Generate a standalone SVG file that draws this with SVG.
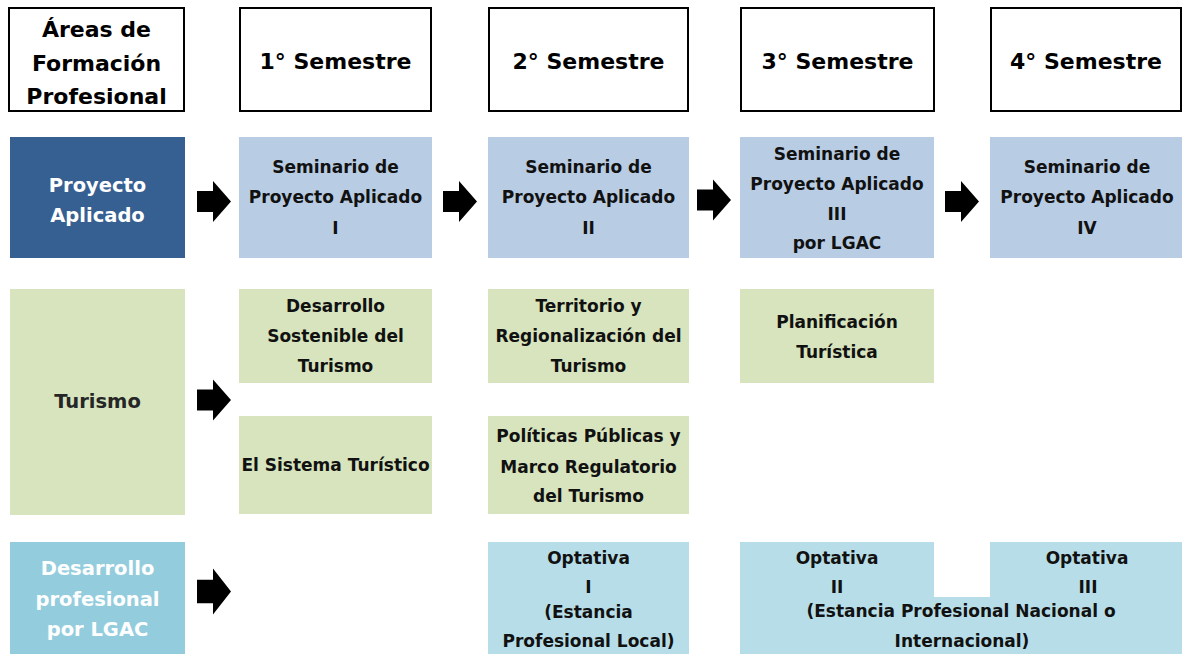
<svg xmlns="http://www.w3.org/2000/svg" width="1182" height="654" viewBox="0 0 1182 654">
<defs>
<style>
text{font-family:"DejaVu Sans","Liberation Sans",sans-serif;font-weight:bold;text-anchor:middle;}
.hdr{fill:#fff;stroke:#000;stroke-width:2;}
.ht{font-size:22px;fill:#000;}
.t{font-size:17px;fill:#111;}
.rl{font-size:19.5px;fill:#fff;}
.pa{fill:#b8cce4;}
.tu{fill:#d7e4bd;}
.op{fill:#b7dee8;}
.arr{fill:#000;}
</style>
<path id="arrow" d="M0,-10.5 H16 V-20.5 L34,0 L16,20.5 V10.5 H0 Z"/>
</defs>
<rect width="1182" height="654" fill="#fff"/>

<g id="header-areas"><rect class="hdr" x="9" y="8" width="175" height="103"/>
<text class="ht" x="96.5" y="37">Áreas de</text><text class="ht" x="96.5" y="71">Formación</text><text class="ht" x="96.5" y="104">Profesional</text></g>
<g id="header-s1"><rect class="hdr" x="240" y="8" width="191" height="103"/><text class="ht" x="335.5" y="69">1° Semestre</text></g>
<g id="header-s2"><rect class="hdr" x="489" y="8" width="199" height="103"/><text class="ht" x="588.5" y="69">2° Semestre</text></g>
<g id="header-s3"><rect class="hdr" x="741" y="8" width="193" height="103"/><text class="ht" x="837.5" y="69">3° Semestre</text></g>
<g id="header-s4"><rect class="hdr" x="991" y="8" width="190" height="103"/><text class="ht" x="1086" y="69">4° Semestre</text></g>

<g id="area-proyecto"><rect x="10" y="137" width="175" height="121" fill="#366092"/>
<text class="rl" x="97.5" y="192">Proyecto</text><text class="rl" x="97.5" y="222">Aplicado</text></g>
<g id="area-turismo"><rect x="10" y="289" width="175" height="226" fill="#d7e4bd"/>
<text class="rl" x="97.5" y="408" style="fill:#262626">Turismo</text></g>
<g id="area-desarrollo"><rect x="10" y="542" width="175" height="112" fill="#93cddd"/>
<text class="rl" x="97.5" y="575">Desarrollo</text><text class="rl" x="97.5" y="606">profesional</text><text class="rl" x="97.5" y="636">por LGAC</text></g>

<g id="spa1"><rect class="pa" x="239" y="137" width="193" height="121"/>
<text class="t" x="335.5" y="173">Seminario de</text><text class="t" x="335.5" y="203">Proyecto Aplicado</text><text class="t" x="335.5" y="234">I</text></g>
<g id="spa2"><rect class="pa" x="488" y="137" width="201" height="121"/>
<text class="t" x="588.5" y="173">Seminario de</text><text class="t" x="588.5" y="203">Proyecto Aplicado</text><text class="t" x="588.5" y="234">II</text></g>
<g id="spa3"><rect class="pa" x="740" y="137" width="194" height="121"/>
<text class="t" x="837" y="160">Seminario de</text><text class="t" x="837" y="190">Proyecto Aplicado</text><text class="t" x="837" y="220">III</text><text class="t" x="837" y="249">por LGAC</text></g>
<g id="spa4"><rect class="pa" x="990" y="137" width="192" height="121"/>
<text class="t" x="1087" y="173">Seminario de</text><text class="t" x="1087" y="203">Proyecto Aplicado</text><text class="t" x="1087" y="234">IV</text></g>

<g id="dst"><rect class="tu" x="239" y="289" width="193" height="94"/>
<text class="t" x="335.5" y="312">Desarrollo</text><text class="t" x="335.5" y="342">Sostenible del</text><text class="t" x="335.5" y="372">Turismo</text></g>
<g id="est"><rect class="tu" x="239" y="416" width="193" height="98"/>
<text class="t" x="335.5" y="471">El Sistema Turístico</text></g>
<g id="trt"><rect class="tu" x="488" y="289" width="201" height="94"/>
<text class="t" x="588.5" y="312">Territorio y</text><text class="t" x="588.5" y="342">Regionalización del</text><text class="t" x="588.5" y="372">Turismo</text></g>
<g id="ppm"><rect class="tu" x="488" y="416" width="201" height="98"/>
<text class="t" x="588.5" y="442">Políticas Públicas y</text><text class="t" x="588.5" y="473">Marco Regulatorio</text><text class="t" x="588.5" y="502">del Turismo</text></g>
<g id="pt"><rect class="tu" x="740" y="289" width="194" height="94"/>
<text class="t" x="837" y="328">Planificación</text><text class="t" x="837" y="358">Turística</text></g>

<g id="opt1"><rect class="op" x="488" y="542" width="201" height="112"/>
<text class="t" x="588.5" y="564">Optativa</text><text class="t" x="588.5" y="593">I</text><text class="t" x="588.5" y="618">(Estancia</text><text class="t" x="588.5" y="647">Profesional Local)</text></g>
<g id="opt23"><path class="op" d="M740,542 H934 V597 H990 V542 H1182 V654 H740 Z"/>
<text class="t" x="837" y="564">Optativa</text><text class="t" x="837" y="593">II</text>
<text class="t" x="1087" y="564">Optativa</text><text class="t" x="1088" y="593">III</text>
<text class="t" x="961" y="617">(Estancia Profesional Nacional o</text><text class="t" x="962" y="647">Internacional)</text></g>

<g id="connectors">
<use href="#arrow" class="arr" transform="translate(197,201.5)"/>
<use href="#arrow" class="arr" transform="translate(443,201.5)"/>
<use href="#arrow" class="arr" transform="translate(697,200)"/>
<use href="#arrow" class="arr" transform="translate(945,201.5)"/>
<use href="#arrow" class="arr" transform="translate(197,400)"/>
<use href="#arrow" class="arr" transform="translate(197,591.5) scale(1,1.12)"/>
</g>
</svg>
